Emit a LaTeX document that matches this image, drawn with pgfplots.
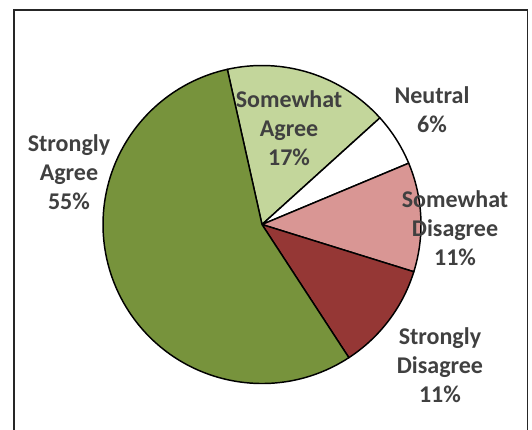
\documentclass[border=0pt]{standalone}
\usepackage{pgfplots}
\usepackage{pgfplotstable}
\pgfplotsset{compat=1.18}
\usepackage{fontspec}
\setmainfont{Carlito}

\definecolor{stragree}{HTML}{77933C}
\definecolor{swagree}{HTML}{C3D69B}
\definecolor{swdisagree}{HTML}{D99694}
\definecolor{strdisagree}{HTML}{953735}
\definecolor{labelgray}{HTML}{404040}

\tikzset{lbl/.style={font=\bfseries\fontsize{18}{21.75}\selectfont, text=labelgray, align=center, inner sep=0pt}}

% shares in percent, clockwise from the top
\pgfplotstableread{
name share
SomewhatAgree 16.8
Neutral 5.4
SomewhatDisagree 11.1
StronglyDisagree 11.0
StronglyAgree 55.7
}\piedata

\begin{document}
\begin{tikzpicture}
% slice boundaries (degrees), accumulated from the table
\pgfmathsetmacro{\aO}{102.6}
\pgfplotstablegetelem{0}{share}\of\piedata
\pgfmathsetmacro{\aA}{\aO-3.6*\pgfplotsretval}
\pgfplotstablegetelem{1}{share}\of\piedata
\pgfmathsetmacro{\aB}{\aA-3.6*\pgfplotsretval}
\pgfplotstablegetelem{2}{share}\of\piedata
\pgfmathsetmacro{\aC}{\aB-3.6*\pgfplotsretval}
\pgfplotstablegetelem{3}{share}\of\piedata
\pgfmathsetmacro{\aD}{\aC-3.6*\pgfplotsretval}
\pgfplotstablegetelem{4}{share}\of\piedata
\pgfmathsetmacro{\aE}{\aD-3.6*\pgfplotsretval}
\def\R{119.25pt}

\useasboundingbox (0,0) rectangle (399pt,321.75pt);
\draw[black!85, line width=1pt] (10.5pt,-5pt) -- (10.5pt,314.25pt) -- (395.6pt,314.25pt) -- (395.6pt,-5pt);

\begin{axis}[
  at={(196.5pt,153.375pt)}, anchor=center,
  x=\R, y=\R,
  xmin=-1, xmax=1, ymin=-1, ymax=1,
  hide axis, clip=false,
]
\addplot[fill=swagree, draw=black, line width=1.1pt, line join=round] coordinates {(0,0)}
  -- ++(\aO:\R) arc[start angle=\aO, end angle=\aA, radius=\R] -- cycle;
\addplot[fill=white, draw=black, line width=1.1pt, line join=round] coordinates {(0,0)}
  -- ++(\aA:\R) arc[start angle=\aA, end angle=\aB, radius=\R] -- cycle;
\addplot[fill=swdisagree, draw=black, line width=1.1pt, line join=round] coordinates {(0,0)}
  -- ++(\aB:\R) arc[start angle=\aB, end angle=\aC, radius=\R] -- cycle;
\addplot[fill=strdisagree, draw=black, line width=1.1pt, line join=round] coordinates {(0,0)}
  -- ++(\aC:\R) arc[start angle=\aC, end angle=\aD, radius=\R] -- cycle;
\addplot[fill=stragree, draw=black, line width=1.1pt, line join=round] coordinates {(0,0)}
  -- ++(\aD:\R) arc[start angle=\aD, end angle=\aE, radius=\R] -- cycle;

\node[lbl] at (axis cs:-1.214,0.330) {Strongly\\Agree\\55\%};
\node[lbl] at (axis cs:0.170,0.607) {Somewhat\\Agree\\17\%};
\node[lbl] at (axis cs:1.069,0.720) {Neutral\\6\%};
\node[lbl] at (axis cs:1.214,-0.022) {Somewhat\\Disagree\\11\%};
\node[lbl] at (axis cs:1.119,-0.884) {Strongly\\Disagree\\11\%};
\end{axis}
\end{tikzpicture}
\end{document}
